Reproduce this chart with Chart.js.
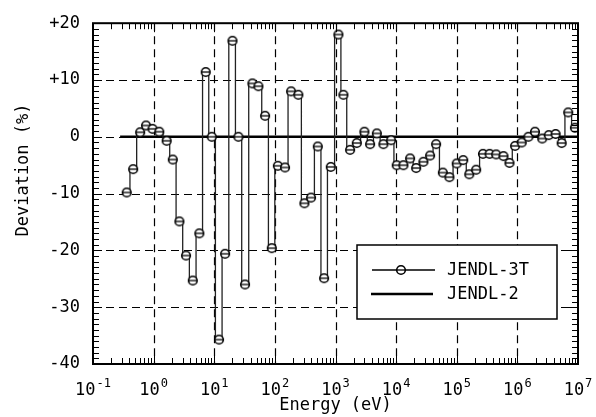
<!DOCTYPE html>
<html lang="en">
<head>
    <meta charset="UTF-8">
    <title>Deviation vs Energy</title>
    <script src="https://cdn.jsdelivr.net/npm/chart.js"></script>
    <style>
        body {
            margin: 0;
            padding: 0;
            background-color: #fff;
        }

        #chart-container {
            width: 596px;
            height: 417px;
        }
    </style>
</head>
<body>
    <div id="chart-container">
        <canvas id="devChart" width="596" height="417"></canvas>
    </div>
    <script>
        // Dados
        const energy = [0.36, 0.46, 0.6, 0.75, 0.96, 1.24, 1.64, 2.07, 2.66, 3.42,
            4.42, 5.68, 7.24, 9.1, 12, 15.1, 20, 25, 32.2, 42.6,
            53.5, 68.9, 88.9, 112, 147, 185, 244, 307, 395, 510,
            649, 836, 1117, 1350, 1740, 2243, 3000, 3724, 4806, 6170,
            8260, 10240, 13200, 17000, 21400, 28200, 36300, 45600, 58900, 75600,
            1e5, 1.28e5, 1.61e5, 2.09e5, 2.71e5, 3.48e5, 4.47e5, 5.9e5, 7.4e5, 9.18e5,
            1.18e6, 1.52e6, 1.95e6, 2.57e6, 3.3e6, 4.27e6, 5.37e6, 6.9e6, 8.9e6];
        const jendl3t = [-9.8, -5.7, 0.8, 2, 1.4, 0.9, -0.7, -4, -14.9, -20.9,
            -25.3, -17, 11.4, 0, -35.7, -20.6, 16.9, 0, -26, 9.4,
            8.9, 3.7, -19.6, -5.1, -5.4, 8, 7.4, -11.7, -10.7, -1.7,
            -24.9, -5.3, 18, 7.4, -2.3, -1.1, 0.9, -1.3, 0.6, -1.3,
            -0.6, -5, -5, -3.8, -5.5, -4.4, -3.3, -1.3, -6.3, -7.1,
            -4.7, -4.1, -6.6, -5.8, -3, -3, -3.1, -3.4, -4.6, -1.6,
            -1, 0, 0.9, -0.3, 0.3, 0.5, -1.1, 4.3, 1.6];
        const jendl2Energy = [0.28, 1e7];
        const jendl2 = [0, 0];
        const xExponents = [-1, 0, 1, 2, 3, 4, 5, 6, 7];
        const seriesNames = ['JENDL-3T', 'JENDL-2'];

        const FONT = '"DejaVu Sans Mono", monospace';
        const INK = '#000';

        // Marcador: círculo com traço horizontal
        function makeMarker() {
            const c = document.createElement('canvas');
            c.width = 12; c.height = 12;
            const g = c.getContext('2d');
            g.fillStyle = '#fff';
            g.strokeStyle = INK;
            g.lineWidth = 1.6;
            g.beginPath();
            g.arc(6, 6, 4.3, 0, Math.PI * 2);
            g.fill();
            g.stroke();
            g.lineWidth = 1.3;
            g.beginPath();
            g.moveTo(1.6, 6); g.lineTo(10.4, 6);
            g.stroke();
            return c;
        }
        const marker = makeMarker();

        function seg(ctx, x1, y1, x2, y2) {
            ctx.beginPath();
            ctx.moveTo(x1, y1);
            ctx.lineTo(x2, y2);
            ctx.stroke();
        }

        const framePlugin = {
            id: 'framePlugin',
            beforeDatasetsDraw(chart) {
                const { ctx, chartArea: a, scales: { x, y } } = chart;
                ctx.save();
                ctx.strokeStyle = INK;
                ctx.lineWidth = 1.2;
                ctx.setLineDash([8, 5]);
                xExponents.slice(1, -1).forEach(e => {
                    const px = Math.round(x.getPixelForValue(Math.pow(10, e))) + 0.5;
                    seg(ctx, px, a.top, px, a.bottom);
                });
                for (let v = -30; v <= 10; v += 10) {
                    const py = Math.round(y.getPixelForValue(v)) + 0.5;
                    seg(ctx, a.left, py, a.right, py);
                }
                ctx.restore();
            },
            afterDraw(chart) {
                const { ctx, chartArea: a, scales: { x, y } } = chart;
                ctx.save();
                ctx.strokeStyle = INK;
                ctx.fillStyle = INK;

                // ticks internos
                ctx.lineWidth = 1;
                for (let d = -1; d < 7; d++) {
                    for (let m = 1; m <= 9; m++) {
                        const px = Math.round(x.getPixelForValue(m * Math.pow(10, d))) + 0.5;
                        const len = m === 1 ? 9 : 6;
                        seg(ctx, px, a.bottom, px, a.bottom - len);
                        seg(ctx, px, a.top, px, a.top + len);
                    }
                }
                for (let v = -40; v <= 20; v++) {
                    const py = Math.round(y.getPixelForValue(v)) + 0.5;
                    const len = v % 10 === 0 ? 9 : 6;
                    seg(ctx, a.left, py, a.left + len, py);
                    seg(ctx, a.right, py, a.right - len, py);
                }

                // moldura
                ctx.lineWidth = 2;
                ctx.strokeRect(a.left, a.top, a.right - a.left, a.bottom - a.top);

                // rótulos do eixo x (10 com expoente)
                ctx.textBaseline = 'middle';
                ctx.textAlign = 'left';
                xExponents.forEach(e => {
                    const px = x.getPixelForValue(Math.pow(10, e));
                    const base = '10';
                    const exp = String(e);
                    ctx.font = '17px ' + FONT;
                    const wb = ctx.measureText(base).width;
                    ctx.font = '12px ' + FONT;
                    const we = ctx.measureText(exp).width;
                    const x0 = px - (wb + we + 1) / 2;
                    ctx.font = '17px ' + FONT;
                    ctx.fillText(base, x0, a.bottom + 27);
                    ctx.font = '12px ' + FONT;
                    ctx.fillText(exp, x0 + wb + 1, a.bottom + 20);
                });

                // título do eixo y
                ctx.save();
                ctx.translate(24, 170);
                ctx.rotate(-Math.PI / 2);
                ctx.textAlign = 'center';
                ctx.font = '17px ' + FONT;
                ctx.fillText('Deviation (%)', 0, 0);
                ctx.restore();

                // legenda
                const lx = 357, ly = 245, lw = 200, lh = 74;
                ctx.fillStyle = '#fff';
                ctx.fillRect(lx, ly, lw, lh);
                ctx.lineWidth = 1.5;
                ctx.strokeRect(lx, ly, lw, lh);
                ctx.lineWidth = 1.3;
                seg(ctx, lx + 15, ly + 25, lx + 78, ly + 25);
                ctx.drawImage(marker, lx + 44 - 6, ly + 25 - 6);
                ctx.lineWidth = 2.5;
                seg(ctx, lx + 14, ly + 49, lx + 76, ly + 49);
                ctx.fillStyle = INK;
                ctx.font = '17px ' + FONT;
                ctx.textAlign = 'left';
                ctx.fillText(seriesNames[0], lx + 90, ly + 26);
                ctx.fillText(seriesNames[1], lx + 90, ly + 50);

                ctx.restore();
            }
        };

        const devChart = new Chart(document.getElementById('devChart').getContext('2d'), {
            type: 'line',
            data: {
                datasets: [{
                    label: seriesNames[0],
                    data: energy.map((e, i) => ({ x: e, y: jendl3t[i] })),
                    stepped: 'middle',
                    borderColor: '#222',
                    borderWidth: 1.3,
                    pointStyle: marker,
                    pointRadius: 5,
                    fill: false
                }, {
                    label: seriesNames[1],
                    data: jendl2Energy.map((e, i) => ({ x: e, y: jendl2[i] })),
                    borderColor: INK,
                    borderWidth: 2.5,
                    pointRadius: 0,
                    fill: false
                }]
            },
            options: {
                responsive: false,
                animation: false,
                maintainAspectRatio: false,
                layout: {
                    autoPadding: false,
                    padding: { top: 14, right: 18, bottom: 0, left: 0 }
                },
                plugins: {
                    legend: { display: false },
                    tooltip: { enabled: false }
                },
                scales: {
                    x: {
                        type: 'logarithmic',
                        min: 0.1,
                        max: 1e7,
                        grid: { display: false, drawTicks: false },
                        border: { display: false },
                        ticks: { display: false },
                        title: {
                            display: true,
                            text: 'Energy (eV)',
                            color: INK,
                            font: { family: FONT, size: 17 },
                            padding: { top: 0, bottom: 1 }
                        },
                        afterFit(scale) { scale.height = 53; }
                    },
                    y: {
                        min: -40,
                        max: 20,
                        grid: { display: false, drawTicks: false },
                        border: { display: false },
                        ticks: {
                            stepSize: 10,
                            padding: 13,
                            color: INK,
                            font: { family: FONT, size: 17 },
                            callback: v => v > 0 ? '+' + v : String(v)
                        },
                        afterFit(scale) { scale.width = 93; }
                    }
                }
            },
            plugins: [framePlugin]
        });
    </script>
</body>
</html>
